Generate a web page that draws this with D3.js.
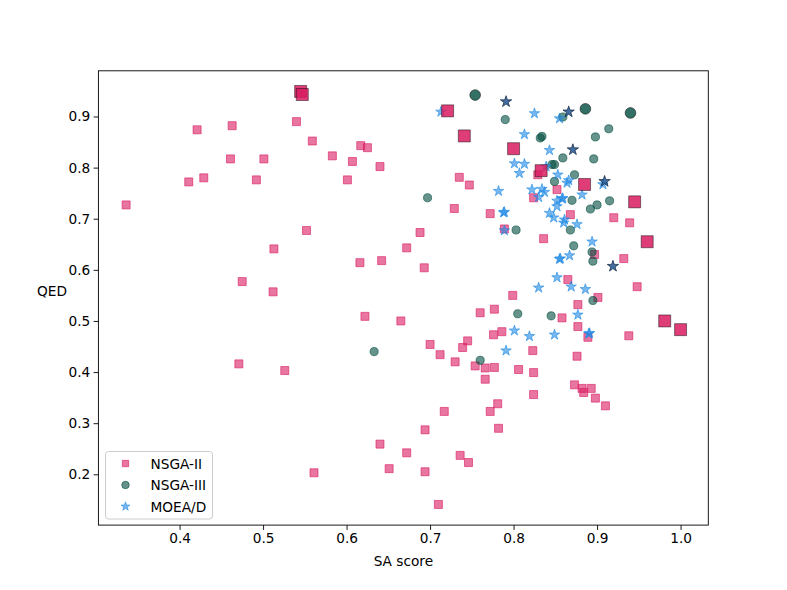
<!DOCTYPE html>
<html lang="en">
<head>
<meta charset="UTF-8">
<title>SA score vs QED</title>
<style>
    body { margin: 0; background: white; }
    svg { font-family: 'DejaVu Sans', sans-serif; }
    .axis text { font-size: 13.7px; fill: black; }
    .axis path, .axis line { stroke: black; stroke-width: 0.9; }
</style>
</head>
<body>
<div id="chart"></div>
<script src="https://d3js.org/d3.v7.min.js"></script>
<script>
    // [SA score, QED]
    const nsga2Points = [
        [0.336, 0.727], [0.421, 0.874], [0.463, 0.882], [0.411, 0.772], [0.429, 0.780],
        [0.461, 0.817], [0.501, 0.817], [0.492, 0.776], [0.540, 0.890], [0.559, 0.852],
        [0.583, 0.823], [0.607, 0.812], [0.617, 0.843], [0.625, 0.839], [0.640, 0.802],
        [0.601, 0.776], [0.552, 0.677], [0.513, 0.641], [0.616, 0.614], [0.642, 0.618],
        [0.672, 0.643], [0.475, 0.577], [0.512, 0.557], [0.622, 0.509], [0.665, 0.500],
        [0.471, 0.416], [0.526, 0.403], [0.640, 0.259], [0.672, 0.242], [0.651, 0.211],
        [0.561, 0.203], [0.693, 0.604], [0.688, 0.673], [0.729, 0.720], [0.772, 0.710],
        [0.735, 0.781], [0.747, 0.766], [0.852, 0.757], [0.824, 0.741], [0.829, 0.786],
        [0.789, 0.680], [0.868, 0.708], [0.920, 0.702], [0.939, 0.692], [0.836, 0.661],
        [0.897, 0.630], [0.932, 0.622], [0.865, 0.581], [0.948, 0.567], [0.799, 0.550],
        [0.901, 0.546], [0.877, 0.532], [0.760, 0.516], [0.777, 0.523], [0.858, 0.506],
        [0.877, 0.489], [0.889, 0.468], [0.938, 0.471], [0.786, 0.479], [0.776, 0.473],
        [0.700, 0.454], [0.745, 0.461], [0.739, 0.448], [0.712, 0.434], [0.730, 0.420],
        [0.823, 0.442], [0.876, 0.431], [0.754, 0.412], [0.766, 0.408], [0.777, 0.409],
        [0.806, 0.405], [0.824, 0.399], [0.766, 0.386], [0.873, 0.375], [0.882, 0.368],
        [0.893, 0.368], [0.884, 0.360], [0.898, 0.349], [0.910, 0.334], [0.824, 0.356],
        [0.781, 0.338], [0.772, 0.323], [0.717, 0.323], [0.782, 0.290], [0.694, 0.287],
        [0.736, 0.237], [0.746, 0.223], [0.694, 0.205], [0.710, 0.141]
    ];
    const nsga2Front = [
        [0.545, 0.949], [0.547, 0.943], [0.721, 0.911], [0.741, 0.862], [0.800, 0.837],
        [0.833, 0.794], [0.885, 0.767], [0.945, 0.733], [0.960, 0.655], [0.981, 0.500],
        [1.000, 0.483]
    ];

    const nsga3Points = [
        [0.633, 0.440], [0.697, 0.741], [0.790, 0.894], [0.859, 0.899], [0.832, 0.858],
        [0.834, 0.861], [0.914, 0.876], [0.898, 0.860], [0.859, 0.819], [0.896, 0.817],
        [0.846, 0.806], [0.849, 0.806], [0.873, 0.786], [0.849, 0.773], [0.870, 0.736],
        [0.900, 0.727], [0.915, 0.735], [0.892, 0.719], [0.868, 0.678], [0.803, 0.678],
        [0.872, 0.647], [0.894, 0.635], [0.895, 0.617], [0.895, 0.540], [0.805, 0.514],
        [0.845, 0.510], [0.760, 0.423]
    ];
    const nsga3Front = [
        [0.754, 0.942], [0.886, 0.915], [0.940, 0.907]
    ];

    const moeadPoints = [
        [0.713, 0.909], [0.825, 0.906], [0.855, 0.896], [0.813, 0.865], [0.843, 0.834],
        [0.801, 0.808], [0.813, 0.807], [0.807, 0.789], [0.839, 0.802], [0.853, 0.786],
        [0.866, 0.775], [0.864, 0.770], [0.907, 0.767], [0.782, 0.754], [0.822, 0.757],
        [0.834, 0.758], [0.837, 0.752], [0.830, 0.742], [0.858, 0.739], [0.859, 0.740],
        [0.852, 0.735], [0.882, 0.747], [0.788, 0.712], [0.789, 0.713], [0.852, 0.724],
        [0.843, 0.711], [0.848, 0.702], [0.860, 0.692], [0.861, 0.698], [0.876, 0.689],
        [0.789, 0.677], [0.894, 0.655], [0.855, 0.621], [0.856, 0.622], [0.867, 0.628],
        [0.852, 0.585], [0.830, 0.565], [0.869, 0.567], [0.886, 0.562], [0.877, 0.512],
        [0.801, 0.481], [0.819, 0.470], [0.849, 0.473], [0.791, 0.442], [0.890, 0.475],
        [0.891, 0.476]
    ];
    const moeadFront = [
        [0.791, 0.929], [0.866, 0.909], [0.871, 0.835], [0.909, 0.773], [0.919, 0.607]
    ];

    const xTicks = [0.4, 0.5, 0.6, 0.7, 0.8, 0.9, 1.0];
    const yTicks = [0.2, 0.3, 0.4, 0.5, 0.6, 0.7, 0.8, 0.9];
    const seriesNames = ["NSGA-II", "NSGA-III", "MOEA/D"];

    const width = 787, height = 590;
    const plotLeft = 98.4, plotRight = 708.3, plotTop = 70.8, plotBottom = 525.1;

    const pink = "#D81B60", teal = "#004D40", blue = "#1E88E5";

    const svg = d3.select("#chart").append("svg")
        .attr("width", width)
        .attr("height", height);

    // matplotlib style 5% margins around the data
    const all = [].concat(nsga2Points, nsga2Front, nsga3Points, nsga3Front, moeadPoints, moeadFront);
    const xExt = d3.extent(all, d => d[0]), yExt = d3.extent(all, d => d[1]);
    const xPad = (xExt[1] - xExt[0]) * 0.05, yPad = (yExt[1] - yExt[0]) * 0.05;

    const x = d3.scaleLinear().domain([xExt[0] - xPad, xExt[1] + xPad]).range([plotLeft, plotRight]);
    const y = d3.scaleLinear().domain([yExt[0] - yPad, yExt[1] + yPad]).range([plotBottom, plotTop]);

    const square = s => d3.symbol(d3.symbolSquare, s)();
    const circle = s => d3.symbol(d3.symbolCircle, s)();
    const star = s => d3.symbol(d3.symbolStar, s)();

    const plot = svg.append("g");

    function scatter(data, path, color, opacity, edge, edgeOpacity) {
        plot.append("g").selectAll("path")
            .data(data)
            .enter().append("path")
            .attr("d", path)
            .attr("transform", d => `translate(${x(d[0])},${y(d[1])})`)
            .attr("fill", color)
            .attr("fill-opacity", opacity)
            .attr("stroke", edge || color)
            .attr("stroke-opacity", edgeOpacity || opacity)
            .attr("stroke-width", 1);
    }

    scatter(nsga2Points, square(64), pink, 0.6);
    scatter(nsga3Points, circle(52), teal, 0.6);
    scatter(moeadPoints, star(34), blue, 0.6);
    scatter(nsga2Front, square(144), pink, 0.85, "#000", 0.45);
    scatter(nsga3Front, circle(90), teal, 0.8, "#000", 0.5);
    scatter(moeadFront, star(40), "#24558f", 0.85, "#0d2540", 0.7);

    // frame
    svg.append("rect")
        .attr("x", plotLeft).attr("y", plotTop)
        .attr("width", plotRight - plotLeft).attr("height", plotBottom - plotTop)
        .attr("fill", "none").attr("stroke", "black").attr("stroke-width", 0.9);

    svg.append("g")
        .attr("class", "axis")
        .attr("transform", `translate(0,${plotBottom})`)
        .call(d3.axisBottom(x).tickValues(xTicks).tickFormat(d3.format(".1f")).tickSize(4.8).tickPadding(3.4))
        .call(g => g.select(".domain").remove())
        .selectAll("text").attr("font-family", "DejaVu Sans");

    svg.append("g")
        .attr("class", "axis")
        .attr("transform", `translate(${plotLeft},0)`)
        .call(d3.axisLeft(y).tickValues(yTicks).tickFormat(d3.format(".1f")).tickSize(4.8).tickPadding(3.4))
        .call(g => g.select(".domain").remove())
        .selectAll("text").attr("font-family", "DejaVu Sans");

    svg.append("text")
        .attr("x", (plotLeft + plotRight) / 2).attr("y", 566)
        .attr("text-anchor", "middle")
        .attr("font-size", "13.7px")
        .text("SA score");

    svg.append("text")
        .attr("x", 52).attr("y", 296)
        .attr("text-anchor", "middle")
        .attr("font-size", "13.7px")
        .text("QED");

    // legend
    const legend = svg.append("g");
    legend.append("rect")
        .attr("x", 105.5).attr("y", 451.5)
        .attr("width", 107).attr("height", 67.5)
        .attr("rx", 3)
        .attr("fill", "white").attr("fill-opacity", 0.8)
        .attr("stroke", "#cccccc");

    const legendMarks = [square(40), circle(44), star(24)];
    const legendColors = [pink, teal, blue];
    seriesNames.forEach((name, i) => {
        const cy = 463.5 + i * 21.5;
        legend.append("path")
            .attr("d", legendMarks[i])
            .attr("transform", `translate(125.5,${cy})`)
            .attr("fill", legendColors[i]).attr("fill-opacity", 0.6)
            .attr("stroke", legendColors[i]).attr("stroke-opacity", 0.6);
        legend.append("text")
            .attr("x", 150.5).attr("y", cy + 5)
            .attr("font-size", "13.7px")
            .text(name);
    });
</script>
</body>
</html>
